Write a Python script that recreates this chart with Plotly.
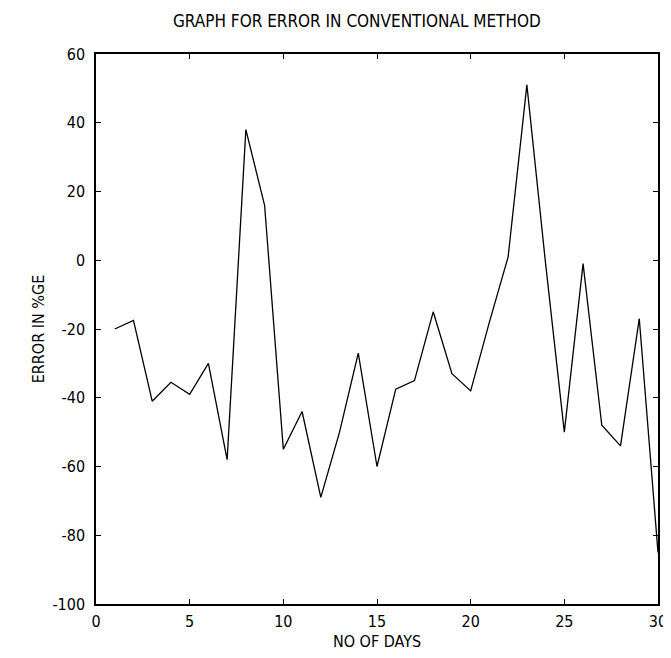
import plotly.graph_objects as go

days = list(range(1, 31))
error_pct = [-20, -17.5, -41, -35.5, -39, -30, -58, 38, 16, -55,
             -44, -69, -50, -27, -60, -37.5, -35, -15, -33, -38,
             -18, 1, 51, -1, -50, -1, -48, -54, -17, -85]

title_text = "GRAPH FOR ERROR IN CONVENTIONAL METHOD"
x_title = "NO OF DAYS"
y_title = "ERROR IN %GE"
x_ticks = [0, 5, 10, 15, 20, 25, 30]
y_ticks = [-100, -80, -60, -40, -20, 0, 20, 40, 60]

font_fam = "DejaVu Sans Condensed, Liberation Sans Narrow, Liberation Sans, Arial, sans-serif"

fig = go.Figure()
fig.add_trace(go.Scatter(x=days, y=error_pct, mode="lines",
                         line=dict(color="black", width=1.3),
                         showlegend=False))

fig.update_layout(
    width=671, height=658,
    paper_bgcolor="white", plot_bgcolor="white",
    margin=dict(l=88, r=12, t=46, b=62),
    title=dict(text=title_text, x=0.52, xanchor="center", y=0.98, yanchor="middle",
               font=dict(family=font_fam, size=17, color="black")),
    font=dict(family=font_fam, size=16, color="black"),
)
axis_common = dict(showgrid=False, zeroline=False, showline=True, linecolor="black",
                   linewidth=1.5, mirror="ticks", ticks="inside", ticklen=5,
                   tickcolor="black", tickfont=dict(family=font_fam, size=16, color="black"))
fig.update_xaxes(range=[0, 30], tickvals=x_ticks, ticktext=[str(v) for v in x_ticks],
                 title=dict(text=x_title, standoff=6, font=dict(family=font_fam, size=16)),
                 ticklabelstandoff=2, **axis_common)
fig.update_yaxes(range=[-100, 60], tickvals=y_ticks, ticktext=[str(v) for v in y_ticks],
                 title=dict(text=y_title, standoff=4, font=dict(family=font_fam, size=16)),
                 ticklabelstandoff=6, **axis_common)

fig.write_html("out.html")
